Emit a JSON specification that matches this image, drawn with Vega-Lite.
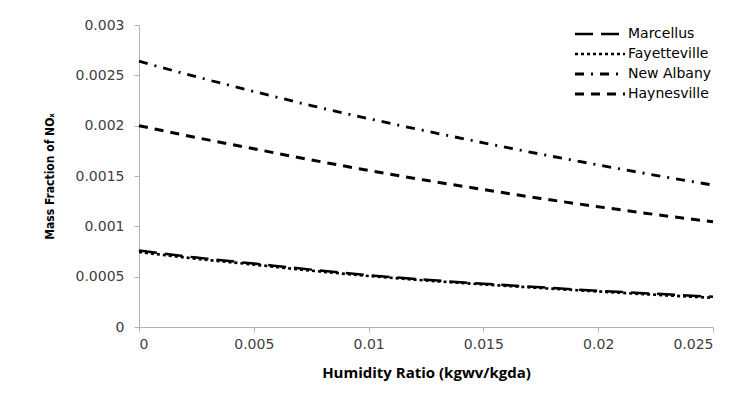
{
  "$schema": "https://vega.github.io/schema/vega-lite/v6.json",
  "width": 574,
  "height": 302,
  "autosize": "none",
  "padding": {"left": 139, "top": 25, "right": 21, "bottom": 78},
  "background": "white",
  "config": {"view": {"stroke": null}, "font": "Open Sans"},
  "data": {"values": [
    {"x": 0, "series": "New Albany", "y": 0.00264},
    {"x": 0.0025, "series": "New Albany", "y": 0.002485},
    {"x": 0.005, "series": "New Albany", "y": 0.00234},
    {"x": 0.0075, "series": "New Albany", "y": 0.0022},
    {"x": 0.01, "series": "New Albany", "y": 0.00207},
    {"x": 0.0125, "series": "New Albany", "y": 0.001947},
    {"x": 0.015, "series": "New Albany", "y": 0.00183},
    {"x": 0.0175, "series": "New Albany", "y": 0.001717},
    {"x": 0.02, "series": "New Albany", "y": 0.00161},
    {"x": 0.0225, "series": "New Albany", "y": 0.001507},
    {"x": 0.025, "series": "New Albany", "y": 0.00141},
    {"x": 0, "series": "Haynesville", "y": 0.002},
    {"x": 0.0025, "series": "Haynesville", "y": 0.001882},
    {"x": 0.005, "series": "Haynesville", "y": 0.00177},
    {"x": 0.0075, "series": "Haynesville", "y": 0.00166},
    {"x": 0.01, "series": "Haynesville", "y": 0.001555},
    {"x": 0.0125, "series": "Haynesville", "y": 0.001457},
    {"x": 0.015, "series": "Haynesville", "y": 0.001365},
    {"x": 0.0175, "series": "Haynesville", "y": 0.001277},
    {"x": 0.02, "series": "Haynesville", "y": 0.001195},
    {"x": 0.0225, "series": "Haynesville", "y": 0.001117},
    {"x": 0.025, "series": "Haynesville", "y": 0.001045},
    {"x": 0, "series": "Marcellus", "y": 0.00076},
    {"x": 0.0025, "series": "Marcellus", "y": 0.00069},
    {"x": 0.005, "series": "Marcellus", "y": 0.00063},
    {"x": 0.0075, "series": "Marcellus", "y": 0.00057},
    {"x": 0.01, "series": "Marcellus", "y": 0.000515},
    {"x": 0.0125, "series": "Marcellus", "y": 0.00047},
    {"x": 0.015, "series": "Marcellus", "y": 0.00043},
    {"x": 0.0175, "series": "Marcellus", "y": 0.000395},
    {"x": 0.02, "series": "Marcellus", "y": 0.00036},
    {"x": 0.0225, "series": "Marcellus", "y": 0.00033},
    {"x": 0.025, "series": "Marcellus", "y": 0.0003},
    {"x": 0, "series": "Fayetteville", "y": 0.000745},
    {"x": 0.0025, "series": "Fayetteville", "y": 0.000678},
    {"x": 0.005, "series": "Fayetteville", "y": 0.00062},
    {"x": 0.0075, "series": "Fayetteville", "y": 0.00056},
    {"x": 0.01, "series": "Fayetteville", "y": 0.000507},
    {"x": 0.0125, "series": "Fayetteville", "y": 0.000462},
    {"x": 0.015, "series": "Fayetteville", "y": 0.000423},
    {"x": 0.0175, "series": "Fayetteville", "y": 0.000387},
    {"x": 0.02, "series": "Fayetteville", "y": 0.000353},
    {"x": 0.0225, "series": "Fayetteville", "y": 0.00032},
    {"x": 0.025, "series": "Fayetteville", "y": 0.00029}
  ]},
  "mark": {"type": "line", "color": "black", "strokeCap": "butt", "interpolate": "monotone"},
  "encoding": {
    "x": {
      "field": "x", "type": "quantitative",
      "scale": {"domain": [0, 0.025], "nice": false, "zero": true},
      "axis": {
        "values": [0, 0.005, 0.01, 0.015, 0.02, 0.025],
        "format": "~g",
        "grid": false,
        "domainColor": "#b3b3b3",
        "tickColor": "#b3b3b3",
        "tickSize": 5,
        "labelFont": "DejaVu Sans",
        "labelFontSize": 14,
        "labelColor": "#404040",
        "labelPadding": 5,
        "title": "Humidity Ratio (kgwv/kgda)",
        "titleFontSize": 15,
        "titleFontWeight": "bold",
        "titleColor": "#000000",
        "titlePadding": 14
      }
    },
    "y": {
      "field": "y", "type": "quantitative",
      "scale": {"domain": [0, 0.003], "nice": false},
      "axis": {
        "values": [0, 0.0005, 0.001, 0.0015, 0.002, 0.0025, 0.003],
        "format": "~g",
        "grid": false,
        "domainColor": "#b3b3b3",
        "tickColor": "#b3b3b3",
        "tickSize": 5,
        "labelFont": "DejaVu Sans",
        "labelFontSize": 14,
        "labelColor": "#404040",
        "labelPadding": 10,
        "title": "Mass Fraction of NOₓ",
        "titleFont": "DejaVu Sans Condensed",
        "titleFontSize": 12,
        "titleFontWeight": "bold",
        "titleColor": "#000000",
        "titlePadding": 19
      }
    },
    "strokeDash": {
      "field": "series", "type": "nominal",
      "scale": {
        "domain": ["Marcellus", "Fayetteville", "New Albany", "Haynesville"],
        "range": [[18, 8], [3, 3], [9, 7, 2, 7], [9, 7]]
      },
      "legend": {
        "title": null,
        "orient": "none",
        "legendX": 454,
        "legendY": 2,
        "symbolType": "M-5,0H5",
        "symbolSize": 100,
        "symbolStrokeColor": "black",
        "symbolStrokeWidth": 3,
        "labelFont": "DejaVu Sans",
        "labelFontSize": 14,
        "labelColor": "#000000",
        "labelOffset": 21,
        "rowPadding": 6
      }
    },
    "strokeWidth": {
      "field": "series", "type": "nominal",
      "scale": {
        "domain": ["Marcellus", "Fayetteville", "New Albany", "Haynesville"],
        "range": [2.5, 3, 2.5, 2.5]
      },
      "legend": null
    }
  }
}
